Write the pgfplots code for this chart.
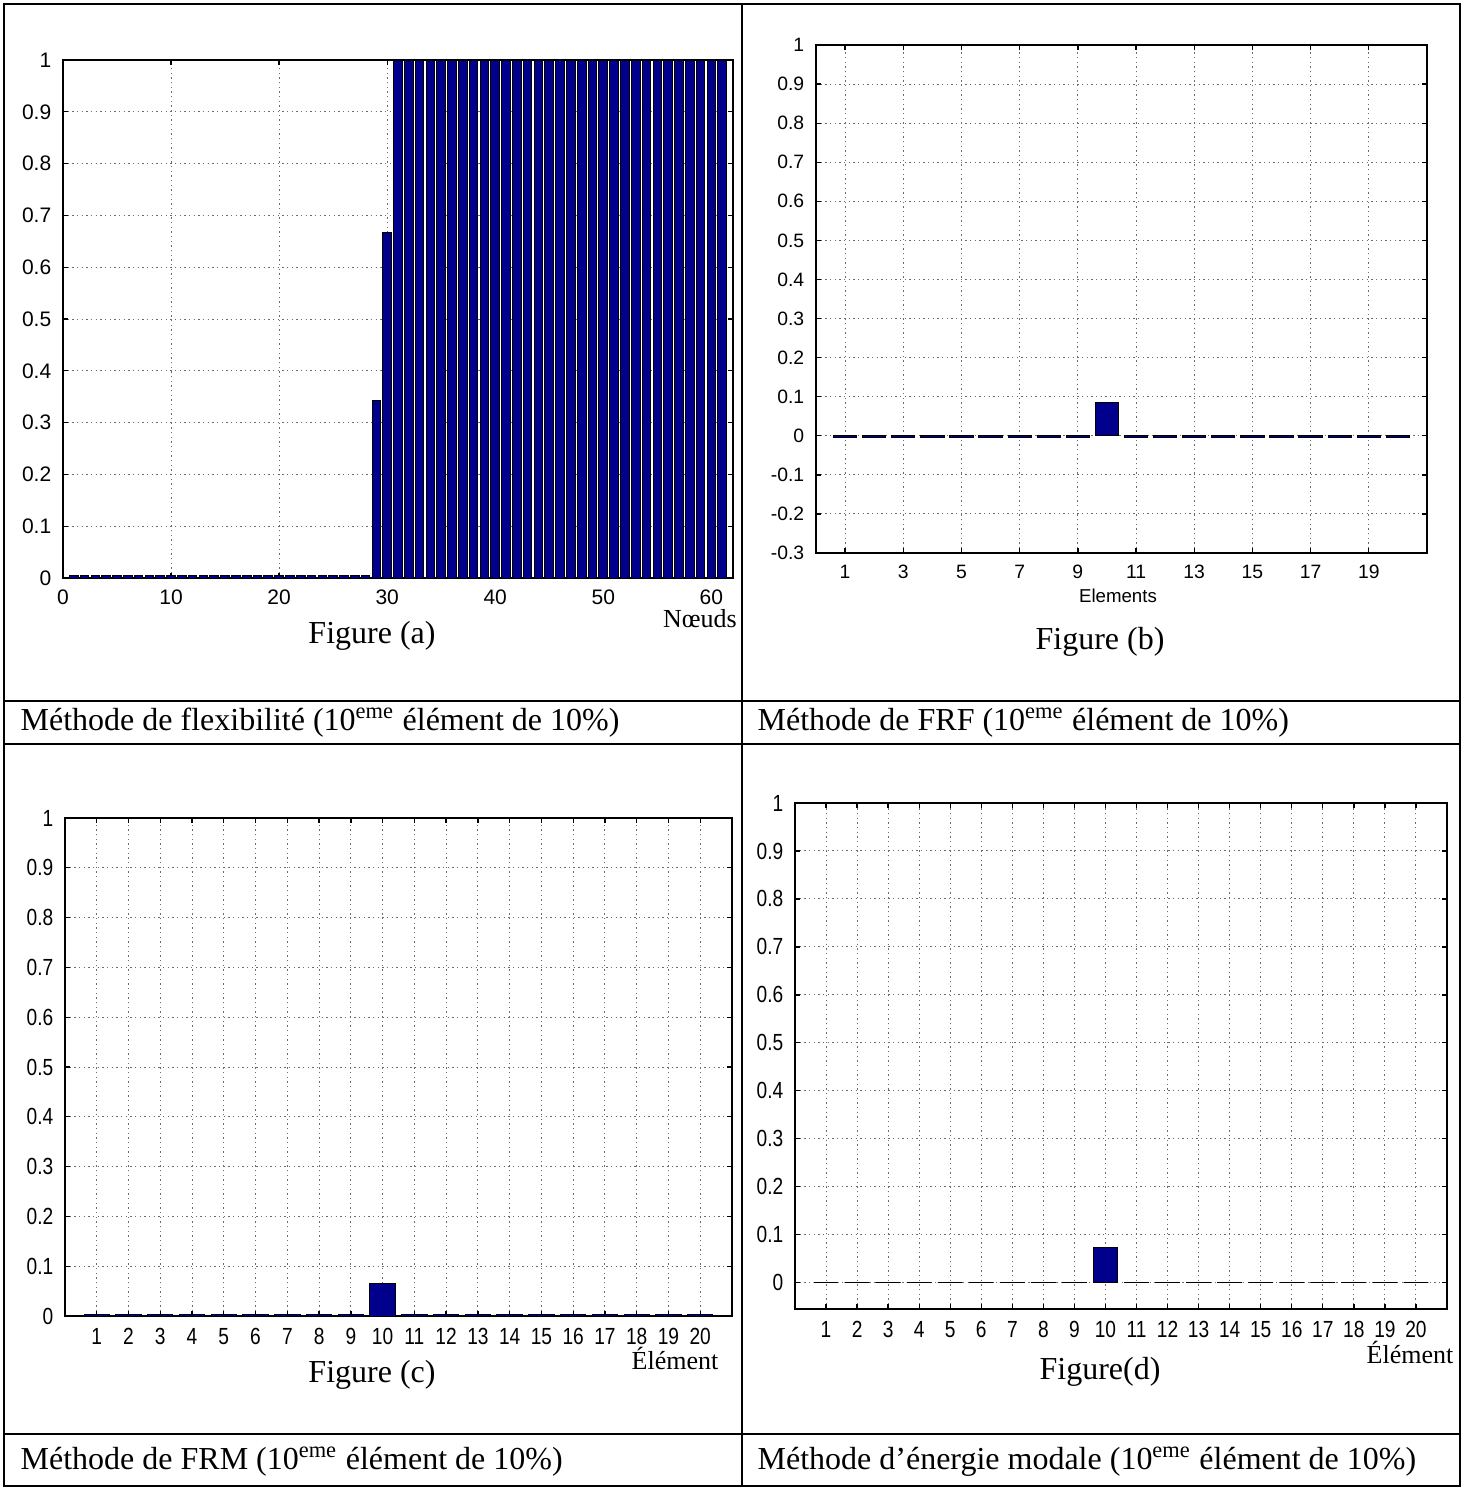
\documentclass[border=0pt]{standalone}
\usepackage{fontspec}
\setmainfont{Liberation Serif}
\newfontfamily\arialfont{Liberation Sans}
\newfontfamily\arialcond[FakeStretch=0.82]{Liberation Sans}
\usepackage{pgfplots}
\pgfplotsset{compat=1.18}
\definecolor{mblue}{RGB}{0,0,140}
\pgfplotsset{
  mstyle/.style={
    scale only axis,
    anchor=south west,
    axis line style={black, line width=0.5pt},
    tick align=inside,
    major tick length=1.5pt,
    tick style={black, line width=0.4pt},
    grid=major,
    major grid style={densely dotted, gray!85!black, line width=0.3pt},
    ticklabel style={font=\arialfont\fontsize{5.8}{7}\selectfont},
    clip=false,
  },
  mbar/.style={ybar, bar width=0.8, fill=mblue, draw=black, line width=0.3pt},
}
\begin{document}
\begin{tikzpicture}[x=0.3pt, y=-0.3pt]
\path[use as bounding box] (0,0) rectangle (1470,1489);
% table
\draw[line width=0.6pt] (4,4) rectangle (1460,1486);
\draw[line width=0.6pt] (741.5,4) -- (741.5,1486);
\draw[line width=0.6pt] (4,701) -- (1460,701);
\draw[line width=0.6pt] (4,744) -- (1460,744);
\draw[line width=0.6pt] (4,1434) -- (1460,1434);
\coordinate (A) at (63,578);
\coordinate (B) at (816,553);
\coordinate (C) at (65,1316);
\coordinate (D) at (795,1309);

% (a)
\begin{axis}[mstyle, at={(A)}, width=201pt, height=155.4pt,
  ticklabel style={font=\arialfont\fontsize{6.3}{7}\selectfont},
  xticklabel style={text height=4.5pt, text depth=0pt},
  xmin=0, xmax=62, ymin=0, ymax=1,
  xtick={0,10,20,30,40,50,60}, xticklabels={0,10,20,30,40,50,60},
  ytick={0,0.1,0.2,0.3,0.4,0.5,0.6,0.7,0.8,0.9,1},
  yticklabels={0,0.1,0.2,0.3,0.4,0.5,0.6,0.7,0.8,0.9,1}]
\addplot[mbar] coordinates {
(1,0.004)(2,0.004)(3,0.004)(4,0.004)(5,0.004)(6,0.004)(7,0.004)(8,0.004)(9,0.004)(10,0.004)
(11,0.004)(12,0.004)(13,0.004)(14,0.004)(15,0.004)(16,0.004)(17,0.004)(18,0.004)(19,0.004)(20,0.004)
(21,0.004)(22,0.004)(23,0.004)(24,0.004)(25,0.004)(26,0.004)(27,0.004)(28,0.004)
(29,0.343)(30,0.667)
(31,1)(32,1)(33,1)(34,1)(35,1)(36,1)(37,1)(38,1)(39,1)(40,1)
(41,1)(42,1)(43,1)(44,1)(45,1)(46,1)(47,1)(48,1)(49,1)(50,1)
(51,1)(52,1)(53,1)(54,1)(55,1)(56,1)(57,1)(58,1)(59,1)(60,1)(61,1)};
\end{axis}

% (b)
\begin{axis}[mstyle, at={(B)}, width=183.3pt, height=152.4pt,
  xticklabel style={text height=4.2pt, text depth=0pt},
  xmin=0, xmax=21, ymin=-0.3, ymax=1,
  xtick={1,3,5,7,9,11,13,15,17,19}, xticklabels={1,3,5,7,9,11,13,15,17,19},
  ytick={-0.3,-0.2,-0.1,0,0.1,0.2,0.3,0.4,0.5,0.6,0.7,0.8,0.9,1},
  yticklabels={-0.3,-0.2,-0.1,0,0.1,0.2,0.3,0.4,0.5,0.6,0.7,0.8,0.9,1}]
\addplot[mbar] coordinates {
(1,-0.004)(2,-0.004)(3,-0.004)(4,-0.004)(5,-0.004)(6,-0.004)(7,-0.004)(8,-0.004)(9,-0.004)
(10,0.085)
(11,-0.004)(12,-0.004)(13,-0.004)(14,-0.004)(15,-0.004)(16,-0.004)(17,-0.004)(18,-0.004)(19,-0.004)(20,-0.004)};
\end{axis}

% (c)
\begin{axis}[mstyle, at={(C)}, width=200.1pt, height=149.4pt,
  ticklabel style={font=\arialcond\fontsize{7}{8}\selectfont},
  xticklabel style={text height=5pt, text depth=0pt},
  xmin=0, xmax=21, ymin=0, ymax=1,
  xtick={1,2,3,4,5,6,7,8,9,10,11,12,13,14,15,16,17,18,19,20},
  xticklabels={1,2,3,4,5,6,7,8,9,10,11,12,13,14,15,16,17,18,19,20},
  ytick={0,0.1,0.2,0.3,0.4,0.5,0.6,0.7,0.8,0.9,1},
  yticklabels={0,0.1,0.2,0.3,0.4,0.5,0.6,0.7,0.8,0.9,1}]
\addplot[mbar] coordinates {
(1,0.003)(2,0.003)(3,0.003)(4,0.003)(5,0.003)(6,0.003)(7,0.003)(8,0.003)(9,0.003)
(10,0.065)
(11,0.003)(12,0.003)(13,0.003)(14,0.003)(15,0.003)(16,0.003)(17,0.003)(18,0.003)(19,0.003)(20,0.003)};
\end{axis}

% (d)
\begin{axis}[mstyle, at={(D)}, width=195.6pt, height=151.8pt,
  ticklabel style={font=\arialcond\fontsize{7}{8}\selectfont},
  xticklabel style={text height=5pt, text depth=0pt},
  xmin=0, xmax=21, ymin=-0.055, ymax=1,
  xtick={1,2,3,4,5,6,7,8,9,10,11,12,13,14,15,16,17,18,19,20},
  xticklabels={1,2,3,4,5,6,7,8,9,10,11,12,13,14,15,16,17,18,19,20},
  ytick={0,0.1,0.2,0.3,0.4,0.5,0.6,0.7,0.8,0.9,1},
  yticklabels={0,0.1,0.2,0.3,0.4,0.5,0.6,0.7,0.8,0.9,1}]
\addplot[mbar] coordinates {
(1,0)(2,0)(3,0)(4,0)(5,0)(6,0)(7,0)(8,0)(9,0)
(10,0.074)
(11,0)(12,0)(13,0)(14,0)(15,0)(16,0)(17,0)(18,0)(19,0)(20,0)};
\end{axis}

% labels
\node[font=\fontsize{7.8}{9}\selectfont] at (700,619) {Nœuds};
\node[font=\fontsize{9.6}{11}\selectfont] at (372,636) {Figure (a)};
\node[font=\arialfont\fontsize{5.6}{7}\selectfont] at (1118,596) {Elements};
\node[font=\fontsize{9.6}{11}\selectfont] at (1100,642) {Figure (b)};
\node[font=\fontsize{7.8}{9}\selectfont] at (675,1358) {Élément};
\node[font=\fontsize{9.6}{11}\selectfont] at (372,1375) {Figure (c)};
\node[font=\fontsize{7.8}{9}\selectfont] at (1410,1352) {Élément};
\node[font=\fontsize{9.6}{11}\selectfont] at (1100,1372) {Figure(d)};

\node[font=\fontsize{9.6}{11}\selectfont, anchor=west, inner sep=0pt] at (20,723) {Méthode de flexibilité (10\textsuperscript{eme} élément de 10\%)};
\node[font=\fontsize{9.6}{11}\selectfont, anchor=west, inner sep=0pt] at (757,723) {Méthode de FRF (10\textsuperscript{eme} élément de 10\%)};
\node[font=\fontsize{9.6}{11}\selectfont, anchor=west, inner sep=0pt] at (20,1462) {Méthode de FRM (10\textsuperscript{eme} élément de 10\%)};
\node[font=\fontsize{9.6}{11}\selectfont, anchor=west, inner sep=0pt] at (757,1462) {Méthode d’énergie modale (10\textsuperscript{eme} élément de 10\%)};
\end{tikzpicture}
\end{document}
